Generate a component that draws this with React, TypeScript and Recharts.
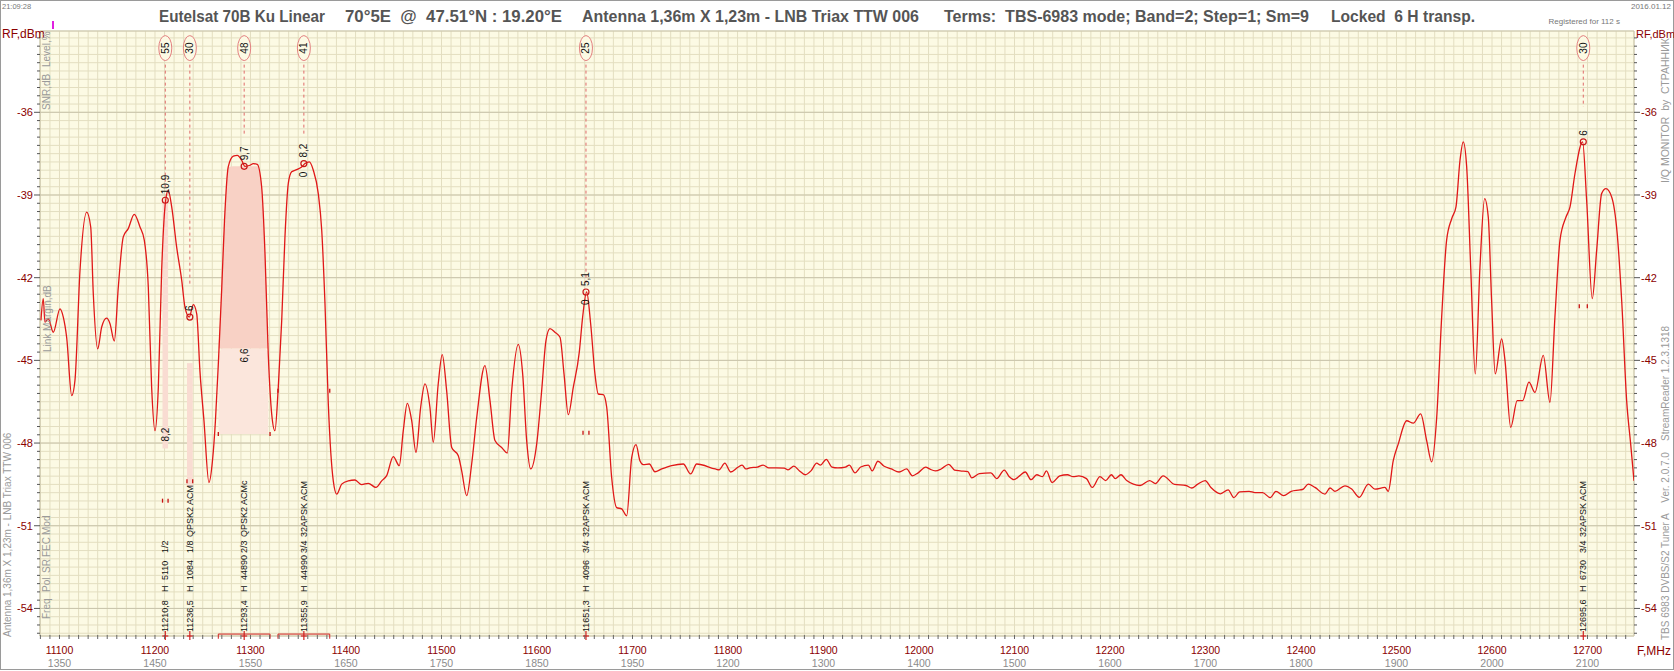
// Spectrum scan of Eutelsat 70B Ku band, drawn with Recharts
import React from "react";
import {
  ComposedChart, Line, Area, XAxis, YAxis, CartesianGrid,
  ReferenceLine, ReferenceArea, ReferenceDot,
} from "recharts";

document.body.style.margin = "0";

const W = 1674;
const H = 671;
const X_DOMAIN: [number, number] = [11079.6, 12748.7];
const Y_DOMAIN: [number, number] = [-55, -33.05];

// spectrum trace, MHz
const freqMHz = [
  11080.6, 11083.0, 11084.8, 11088.3, 11093.5, 11100.5, 11104.0, 11107.5, 11112.8, 11116.2,
  11121.5, 11128.5, 11132.7, 11135.4, 11140.0, 11144.2, 11149.4, 11152.9, 11157.4, 11161.6,
  11166.8, 11172.0, 11178.3, 11184.3, 11188.8, 11193.0, 11196.5, 11200.0, 11203.5, 11207.0,
  11211.2, 11213.9, 11217.5, 11222.7, 11228.0, 11231.4, 11235.9, 11240.1, 11243.7, 11247.1,
  11251.3, 11256.5, 11260.2, 11263.3, 11266.5, 11269.8, 11272.8, 11276.7, 11282.0, 11286.2,
  11290.8, 11294.2, 11299.5, 11302.9, 11307.1, 11311.7, 11315.2, 11318.6, 11322.2, 11325.6,
  11329.1, 11332.7, 11336.1, 11339.6, 11343.1, 11348.4, 11353.6, 11357.1, 11361.6, 11365.8,
  11371.0, 11374.6, 11378.0, 11381.5, 11386.7, 11390.3, 11395.5, 11402.4, 11409.4, 11416.4,
  11423.3, 11431.4, 11437.4, 11442.6, 11449.5, 11455.8, 11460.0, 11464.2, 11468.8, 11473.3,
  11478.2, 11482.7, 11487.9, 11491.4, 11496.6, 11500.8, 11505.4, 11510.7, 11517.6, 11521.1,
  11526.4, 11531.6, 11536.9, 11545.5, 11550.8, 11556.0, 11563.0, 11568.9, 11573.5, 11580.4,
  11585.0, 11589.2, 11593.4, 11599.7, 11604.9, 11609.4, 11613.6, 11618.8, 11624.1, 11628.3,
  11632.8, 11638.0, 11644.3, 11647.8, 11652.0, 11656.2, 11660.7, 11664.2, 11669.4, 11673.0,
  11678.2, 11683.4, 11688.7, 11693.9, 11699.2, 11703.7, 11707.8, 11711.3, 11717.6, 11723.5,
  11730.6, 11741.0, 11753.2, 11760.9, 11767.2,
  11786.7, 11790.7, 11796.7, 11802.8, 11810.8, 11814.8, 11818.8, 11822.8, 11830.8, 11836.8,
  11842.8, 11850.8, 11858.9, 11862.9, 11868.9, 11874.9, 11880.9, 11886.9, 11892.9, 11896.9,
  11902.9, 11908.9, 11915.0, 11923.0, 11927.0, 11933.0, 11939.0, 11947.0, 11951.0, 11957.0,
  11963.1, 11971.1, 11979.1, 11987.1, 11993.1, 11999.1, 12007.1, 12011.1, 12017.1, 12023.2,
  12031.2, 12037.2, 12043.2, 12051.2, 12055.2, 12063.2, 12075.3, 12081.3, 12089.3, 12094.5,
  12099.3, 12105.3, 12111.3, 12117.3, 12123.3, 12129.4, 12133.4, 12139.4, 12147.4, 12155.4,
  12161.4, 12167.4, 12175.4, 12181.5, 12189.5, 12195.5, 12201.5, 12205.5, 12211.5, 12217.5,
  12231.5, 12241.5, 12247.6, 12255.6, 12267.6, 12279.6, 12285.6, 12291.6, 12299.7, 12305.7,
  12315.7, 12323.7, 12329.7, 12335.7, 12345.7, 12351.8, 12359.8, 12367.8, 12373.8, 12381.8,
  12389.8, 12399.0,
  12402.4, 12407.6, 12414.6, 12425.1, 12430.4, 12435.6, 12446.0, 12453.1, 12461.0, 12470.5,
  12477.4, 12487.9, 12491.4, 12496.6, 12501.9, 12510.6, 12517.6, 12525.3, 12531.6, 12536.8,
  12542.1, 12547.3, 12552.5, 12557.8, 12562.3, 12566.5, 12569.9, 12573.5, 12577.7, 12582.5,
  12587.4, 12592.3, 12596.1, 12599.6, 12603.4, 12610.1, 12613.6, 12619.6, 12626.4, 12632.1,
  12638.7, 12645.0, 12653.7, 12660.7, 12665.9, 12671.2, 12677.5, 12681.7, 12686.9, 12694.9,
  12699.1, 12705.0, 12709.6, 12714.8, 12719.3, 12725.3, 12731.1, 12735.8, 12741.0, 12745.2,
  12748.7,
];

// spectrum trace, dBm
const levelDbm = [
  -43.55, -42.76, -43.61, -43.49, -43.98, -43.13, -43.43, -44.16, -46.28, -45.73,
  -41.73, -39.62, -40.16, -42.58, -44.58, -43.79, -43.47, -43.67, -44.30, -42.34,
  -40.52, -40.22, -39.70, -40.16, -40.64, -42.34, -45.98, -47.55, -45.98, -41.73,
  -39.19, -38.83, -39.43, -40.89, -42.10, -43.07, -43.43, -42.98, -43.31, -45.40,
  -47.19, -49.43, -48.64, -47.19, -45.00, -42.46, -39.92, -37.98, -37.59, -37.56,
  -37.74, -37.96, -37.92, -37.86, -37.89, -38.71, -41.13, -44.76, -46.94, -47.55,
  -45.98, -43.55, -40.52, -38.58, -38.16, -38.08, -37.98, -37.86, -37.80, -38.10,
  -38.95, -40.28, -42.94, -46.58, -49.37, -49.85, -49.49, -49.37, -49.34, -49.51,
  -49.46, -49.61, -49.37, -49.18, -48.49, -48.82, -47.55, -46.56, -47.19, -48.34,
  -46.70, -45.85, -46.70, -47.97, -45.85, -44.79, -46.10, -48.16, -48.46, -49.00,
  -49.91, -48.76, -47.07, -45.19, -46.46, -47.91, -48.16, -48.36, -46.10, -44.42,
  -45.49, -47.91, -48.94, -48.03, -46.10, -44.28, -43.85, -43.98, -44.16, -45.49,
  -46.97, -45.98, -44.70, -43.43, -42.52, -43.67, -45.49, -46.22, -46.24, -46.70,
  -49.25, -50.34, -50.39, -50.64, -48.52, -48.06, -48.64, -48.78, -48.76, -49.04,
  -48.94, -48.82, -48.76, -49.12, -48.76,
  -48.94, -48.97, -48.73, -49.05, -48.87, -48.80, -48.94, -48.90, -48.87, -48.80,
  -48.90, -48.90, -48.91, -48.97, -48.84, -49.01, -49.15, -49.01, -48.73, -48.80,
  -48.59, -48.87, -48.90, -48.87, -48.80, -49.08, -48.87, -48.80, -49.01, -48.66,
  -48.83, -48.94, -49.05, -48.94, -49.19, -49.08, -48.87, -48.94, -49.01, -48.94,
  -48.77, -48.98, -49.01, -49.04, -49.26, -49.11, -49.08, -49.29, -48.98, -49.22,
  -49.33, -49.19, -49.05, -49.33, -49.15, -49.22, -49.01, -49.43, -49.19, -49.15,
  -49.22, -49.19, -49.29, -49.61, -49.22, -49.36, -49.15, -49.29, -49.15, -49.36,
  -49.54, -49.36, -49.47, -49.19, -49.50, -49.54, -49.63, -49.50, -49.36, -49.61,
  -49.84, -49.70, -49.98, -49.77, -49.75, -49.80, -49.80, -49.98, -49.75, -49.91,
  -49.75, -49.70,
  -49.67, -49.49, -49.61, -49.85, -49.63, -49.75, -49.55, -49.67, -49.97, -49.49,
  -49.67, -49.61, -49.75, -48.64, -48.03, -47.19, -47.28, -46.94, -47.91, -48.68,
  -47.07, -43.43, -40.64, -39.86, -39.43, -37.74, -37.07, -37.98, -41.62, -45.49,
  -41.62, -39.13, -39.80, -42.83, -45.49, -44.22, -45.00, -47.43, -46.46, -46.46,
  -45.79, -46.16, -44.82, -46.52, -43.43, -40.64, -39.80, -39.43, -38.22, -37.07,
  -39.19, -42.76, -41.01, -38.95, -38.77, -39.07, -40.40, -42.83, -46.46, -48.03,
  -49.37,
];

// axis labels
const rfTicks = [11100, 11200, 11300, 11400, 11500, 11600, 11700, 11800, 11900, 12000, 12100, 12200, 12300, 12400, 12500, 12600, 12700];
const ifTicks = ["1350", "1450", "1550", "1650", "1750", "1850", "1950", "1200", "1300", "1400", "1500", "1600", "1700", "1800", "1900", "2000", "2100"];
const dbTicks = [-36, -39, -42, -45, -48, -51, -54];

// locked transponders
const tpFreq = [11210.8, 11236.5, 11293.4, 11355.9, 11651.3, 12695.6];
const tpPol = ["H", "H", "H", "H", "H", "H"];
const tpSR = [5110, 1084, 44890, 44990, 4096, 6730];
const tpFec = ["1/2", "1/8", "2/3", "3/4", "3/4", "3/4"];
const tpMod = ["", "QPSK2 ACM", "QPSK2 ACMc", "32APSK ACM", "32APSK ACM", "32APSK ACM"];
const tpLevelPct = [55, 30, 48, 41, 25, 30];
const tpSnr = ["10,9", "6", "9,7", "8,2", "5,1", "6"];
const tpPeak = [-39.19, -43.43, -37.96, -37.86, -42.52, -37.07];
const tpHalfBw = [2.9, 3.0, 27.1, 27.1, 3.1, 4.2];
const tpEdge = [-50.09, -49.39, -47.67, -46.10, -47.63, -43.04];
const tpDashEnd = [-38.72, -42.28, -36.83, -36.83, -42.2, -35.8];
const tpMargin = ["8,2", "", "6,6", "0", "0", ""];
const tpMarginLvl = [-47.44, 0, -44.57, -38.15, -42.79, 0];
const tpShadeTop = [-39.19, -45.1, -37.96, null, null, null];
const tpShadeMid = [null, null, -44.57, null, null, null];
const tpShadeBot = [-48.2, -49.6, -47.67, null, null, null];
const WIDE = 2;

const TAG_LEVEL = -33.67;
const DASH_TOP = -34.27;

const minorX: number[] = [];
for (let k = 1108; k <= 1274; k++) minorX.push(k * 10);
const minorY: number[] = [];
for (let k = 0; k <= 72; k++) minorY.push((-549 + 3 * k) / 10);

const rows = freqMHz.map((f, i) => {
  const v = levelDbm[i];
  const f0 = tpFreq[WIDE];
  const hb = tpHalfBw[WIDE];
  const inBand = f >= f0 - hb && f <= f0 + hb;
  const top = tpShadeTop[WIDE] as number;
  const mid = tpShadeMid[WIDE] as number;
  const bot = tpShadeBot[WIDE] as number;
  return {
    f,
    v,
    upper: inBand ? [mid, Math.max(mid, Math.min(v, top))] : null,
    lower: inBand ? [bot, Math.max(bot, Math.min(v, mid))] : null,
  };
});

const DARK_RED = "#8B0000";
const GRAY = "#9a9a9a";
const TRACE = "#E01818";

const vtext = (x: number, y: number, s: string, anchor: string, size: number, fill: string) => (
  <text
    transform={`translate(${x},${y}) rotate(-90)`}
    textAnchor={anchor}
    fontSize={size}
    fill={fill}
    xmlSpace="preserve"
    style={{ whiteSpace: "pre" }}
  >
    {s}
  </text>
);

function XTick({ x, y, payload }: any) {
  const val = payload.value;
  const i = rfTicks.indexOf(val);
  return (
    <g>
      <line x1={x} x2={x} y1={y - 1} y2={y + 3} stroke="#666" />
      {i >= 0 && (
        <>
          <text x={x} y={y + 18} textAnchor="middle" fontSize={10.5} fill={DARK_RED}>{val}</text>
          <text x={x} y={y + 31} textAnchor="middle" fontSize={10.5} fill="#8c8c8c">{ifTicks[i]}</text>
        </>
      )}
    </g>
  );
}

function YTickL({ x, y, payload }: any) {
  const major = dbTicks.includes(payload.value);
  return (
    <g>
      <line x1={x - (major ? 6 : 3)} x2={x} y1={y} y2={y} stroke="#555" />
      {major && (
        <text x={x - 7} y={y + 4} textAnchor="end" fontSize={11} fill={DARK_RED}>{payload.value}</text>
      )}
    </g>
  );
}

function YTickR({ x, y, payload }: any) {
  const major = dbTicks.includes(payload.value);
  return (
    <g>
      <line x1={x} x2={x + (major ? 6 : 3)} y1={y} y2={y} stroke="#555" />
      {major && (
        <text x={x + 7} y={y + 4} textAnchor="start" fontSize={11} fill={DARK_RED}>{payload.value}</text>
      )}
    </g>
  );
}

// bottom of each column of the rotated transponder info, px above the axis
const infoFields = (i: number) => [
  { s: tpFreq[i].toFixed(1).replace(".", ","), d: 4 },
  { s: tpPol[i], d: 44 },
  { s: String(tpSR[i]), d: 56 },
  { s: tpFec[i], d: 83 },
  { s: tpMod[i], d: 99 },
];

export default function App() {
  return (
    <div style={{ position: "relative", width: W, height: H, background: "#fff", fontFamily: "'Liberation Sans', Arial, sans-serif" }}>
      <ComposedChart width={W} height={H} data={rows} margin={{ top: 31, right: 0, bottom: 0, left: 0 }}>
        <CartesianGrid fill="#FCFAE4" stroke="#E3DEC0" strokeWidth={1} />
        <CartesianGrid xAxisId="MX" yAxisId="MY" stroke="#C9C4AC" strokeWidth={1} />
        <XAxis
          dataKey="f"
          type="number"
          domain={X_DOMAIN}
          allowDataOverflow
          ticks={minorX}
          interval={0}
          height={35}
          tickSize={0}
          tickMargin={0}
          axisLine={false}
          tickLine={false}
          tick={<XTick />}
        />
        <XAxis xAxisId="MX" type="number" domain={X_DOMAIN} allowDataOverflow ticks={rfTicks} interval={0} hide />
        <YAxis
          type="number"
          domain={Y_DOMAIN}
          allowDataOverflow
          ticks={minorY}
          interval={0}
          width={40}
          tickSize={0}
          tickMargin={0}
          axisLine={false}
          tickLine={false}
          tick={<YTickL />}
        />
        <YAxis
          yAxisId="r"
          orientation="right"
          type="number"
          domain={Y_DOMAIN}
          allowDataOverflow
          ticks={minorY}
          interval={0}
          width={40}
          tickSize={0}
          tickMargin={0}
          axisLine={false}
          tickLine={false}
          tick={<YTickR />}
        />
        <YAxis yAxisId="MY" type="number" domain={Y_DOMAIN} allowDataOverflow ticks={dbTicks} interval={0} hide />

        {tpFreq.map((f, i) =>
          tpShadeTop[i] != null && i !== WIDE ? (
            <ReferenceArea
              key={`sh${i}`}
              x1={f - tpHalfBw[i]}
              x2={f + tpHalfBw[i]}
              y1={tpShadeBot[i] as number}
              y2={tpShadeTop[i] as number}
              fill="#F9DCD2"
              fillOpacity={1}
              stroke="none"
            />
          ) : null
        )}

        <Area dataKey="lower" type="monotone" stroke="none" fill="#FBE6DC" fillOpacity={1} dot={false} activeDot={false} isAnimationActive={false} />
        <Area dataKey="upper" type="monotone" stroke="none" fill="#F8D1C5" fillOpacity={1} dot={false} activeDot={false} isAnimationActive={false} />

        <Line dataKey="v" type="monotone" stroke={TRACE} strokeWidth={1.3} dot={false} activeDot={false} isAnimationActive={false} />

        {tpFreq.map((f, i) => (
          <ReferenceLine
            key={`dl${i}`}
            segment={[{ x: f, y: DASH_TOP }, { x: f, y: tpDashEnd[i] }]}
            stroke="#E06A6A"
            strokeDasharray="3 3"
          />
        ))}

        {tpFreq.map((f, i) =>
          tpHalfBw[i] > 10 ? (
            <ReferenceLine
              key={`br${i}`}
              segment={[{ x: f - tpHalfBw[i], y: -54.93 }, { x: f + tpHalfBw[i], y: -54.93 }]}
              stroke="#D02020"
              ifOverflow="visible"
            />
          ) : null
        )}
        {tpFreq.flatMap((f, i) =>
          tpHalfBw[i] > 10
            ? [-1, 1].map((s) => (
                <ReferenceLine
                  key={`be${i}${s}`}
                  segment={[{ x: f + s * tpHalfBw[i], y: -54.93 }, { x: f + s * tpHalfBw[i], y: -55.1 }]}
                  stroke="#D02020"
                  ifOverflow="visible"
                />
              ))
            : []
        )}

        {tpFreq.flatMap((f, i) =>
          [-1, 1].map((s) => (
            <ReferenceDot
              key={`ed${i}${s}`}
              x={f + s * tpHalfBw[i]}
              y={tpEdge[i]}
              ifOverflow="visible"
              shape={(p: any) => <line x1={p.cx} x2={p.cx} y1={p.cy - 2} y2={p.cy + 2} stroke="#C81010" strokeWidth={1.3} />}
            />
          ))
        )}

        {tpFreq.map((f, i) => (
          <ReferenceDot
            key={`tag${i}`}
            x={f}
            y={TAG_LEVEL}
            ifOverflow="visible"
            shape={(p: any) => (
              <g>
                <ellipse cx={p.cx} cy={p.cy} rx={6.5} ry={12.5} fill="#FCFAE4" stroke="#E38080" />
                {vtext(p.cx + 3.5, p.cy, String(tpLevelPct[i]), "middle", 10, "#111")}
              </g>
            )}
          />
        ))}

        {tpFreq.map((f, i) => (
          <ReferenceDot
            key={`pk${i}`}
            x={f}
            y={tpPeak[i]}
            ifOverflow="visible"
            shape={(p: any) => (
              <g>
                <circle cx={p.cx} cy={p.cy} r={3} fill="none" stroke="#C81818" strokeWidth={1.2} />
                {vtext(p.cx + 3.5, p.cy - 6, tpSnr[i], "start", 10, "#111")}
              </g>
            )}
          />
        ))}

        {tpFreq.map((f, i) =>
          tpMargin[i] ? (
            <ReferenceDot
              key={`mg${i}`}
              x={f}
              y={tpMarginLvl[i]}
              ifOverflow="visible"
              shape={(p: any) => vtext(p.cx + 3.5, p.cy, tpMargin[i], "end", 10, "#111")}
            />
          ) : null
        )}

        {tpFreq.map((f, i) => (
          <ReferenceDot
            key={`inf${i}`}
            x={f}
            y={Y_DOMAIN[0]}
            ifOverflow="visible"
            shape={(p: any) => (
              <g>
                <line x1={p.cx} x2={p.cx} y1={p.cy - 5} y2={p.cy + 4} stroke="#D02020" strokeWidth={1.2} />
                <line x1={p.cx - 3} x2={p.cx + 3} y1={p.cy} y2={p.cy} stroke="#D02020" strokeWidth={1.2} />
                {infoFields(i).map((fd, k) => (
                  <g key={k}>{vtext(p.cx + 3.2, p.cy - fd.d, fd.s, "start", 9, "#111")}</g>
                ))}
              </g>
            )}
          />
        ))}
      </ComposedChart>

      <svg width={W} height={H} style={{ position: "absolute", left: 0, top: 0, pointerEvents: "none" }}>
        <rect x={0.5} y={0.5} width={W - 1} height={669} fill="none" stroke="#9a9a9a" />
        <text x={2} y={9} fontSize={7.5} fill="#777">21:09:28</text>
        <text x={1671} y={9} fontSize={8} fill="#777" textAnchor="end">2016.01.12</text>
        <text x={1620} y={24} fontSize={8} fill="#777" textAnchor="end">Registered for 112 s</text>

        <g fontSize={16} fontWeight="bold" fill="#555">
          <text x={159} y={22} textLength={166} lengthAdjust="spacingAndGlyphs" xmlSpace="preserve">Eutelsat 70B Ku Linear</text>
          <text x={345} y={22} textLength={217} lengthAdjust="spacingAndGlyphs" xmlSpace="preserve">70°5E  @  47.51°N : 19.20°E</text>
          <text x={582} y={22} textLength={337} lengthAdjust="spacingAndGlyphs" xmlSpace="preserve">Antenna 1,36m X 1,23m - LNB Triax TTW 006</text>
          <text x={944} y={22} textLength={365} lengthAdjust="spacingAndGlyphs" xmlSpace="preserve">Terms:  TBS-6983 mode; Band=2; Step=1; Sm=9</text>
          <text x={1331} y={22} textLength={144} lengthAdjust="spacingAndGlyphs" xmlSpace="preserve">Locked  6 H transp.</text>
        </g>

        <rect x={52} y={21} width={2} height={8} fill="#E020E0" />
        <text x={2} y={38} fontSize={12} fill={DARK_RED}>RF,dBm</text>
        <text x={1636} y={38} fontSize={11} fill={DARK_RED}>RF,dBm</text>
        <text x={1637} y={655} fontSize={12} fill={DARK_RED}>F,MHz</text>

        {vtext(50, 67, "Level,%", "start", 10, GRAY)}
        {vtext(50, 110, "SNR,dB", "start", 10, GRAY)}
        {vtext(51, 352, "Link Margin,dB", "start", 10, GRAY)}
        {vtext(50, 619, "Freq", "start", 10, GRAY)}
        {vtext(50, 592, "Pol", "start", 10, GRAY)}
        {vtext(50, 573, "SR", "start", 10, GRAY)}
        {vtext(50, 557, "FEC", "start", 10, GRAY)}
        {vtext(50, 535, "Mod", "start", 10, GRAY)}
        {vtext(11, 637, "Antenna 1,36m X 1,23m - LNB Triax TTW 006", "start", 10, GRAY)}
        {vtext(1669, 183, "I/Q MONITOR  by  СТРАННИК", "start", 10.5, GRAY)}
        {vtext(1669, 640, "TBS 6983 DVBS/S2 Tuner A    Ver. 2.0.7.0    StreamReader 1.2.3.1318", "start", 10, GRAY)}
      </svg>
    </div>
  );
}
